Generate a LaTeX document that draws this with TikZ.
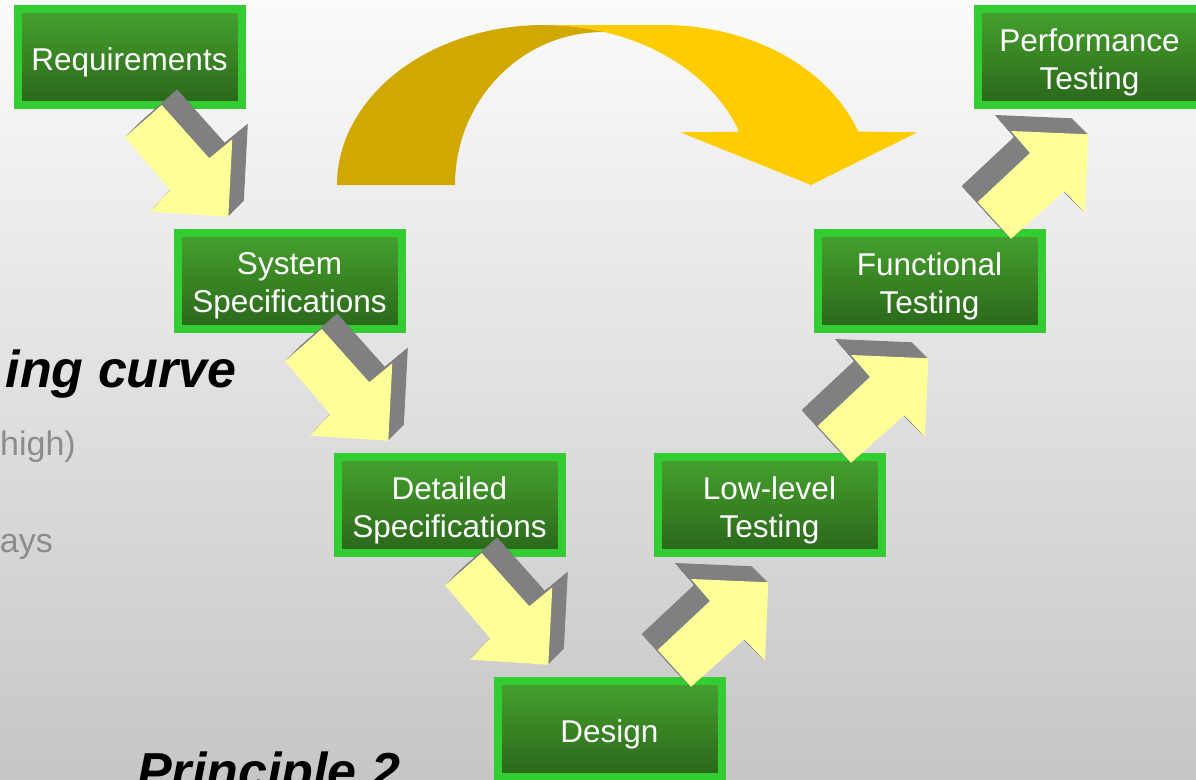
\documentclass[tikz,border=0pt]{standalone}
\usepackage{fontspec}
\setmainfont{Liberation Sans}
\definecolor{boxborder}{HTML}{33CC33}
\definecolor{boxtop}{HTML}{46A22E}
\definecolor{boxbot}{HTML}{2A661A}
\definecolor{arrowyellow}{HTML}{FFFF99}
\definecolor{arrowgrey}{HTML}{808080}
\definecolor{curvedark}{HTML}{D0A800}
\definecolor{curvelight}{HTML}{FFCC00}
\definecolor{bgtop}{HTML}{FBFBFB}
\definecolor{bgbot}{HTML}{C6C6C6}
\definecolor{softgrey}{HTML}{8C8C8C}
\newcommand\stepDownShape{(32.2,48) -- (-4.5,80.3) -- (40.5,133) -- (20.5,154.7) -- (98.8,159.7) -- (102.8,82.3) -- (79.8,101.3) -- cycle}
\newcommand\stepUpShape{(81.5,-42.3) -- (48.2,-79) -- (100.5,-128) -- (81.5,-150) -- (158.8,-146.7) -- (155.5,-68.3) -- (134.8,-89.7) -- cycle}
\begin{document}
\begin{tikzpicture}[x=1pt,y=-1pt,
  stagebox/.style={rectangle, draw=boxborder, line width=8pt, top color=boxtop, bottom color=boxbot,
    minimum width=224pt, minimum height=96pt, inner sep=0pt},
  stagetext/.style={inner sep=0pt, text=white, align=center, font=\fontsize{31.5}{38}\selectfont},
  bigtext/.style={inner sep=0pt, font=\fontsize{52}{60}\selectfont\bfseries\itshape},
  softtext/.style={inner sep=0pt, text=softgrey, font=\fontsize{34}{40}\selectfont}]
\useasboundingbox (0,0) rectangle (1196,779);
\shade[top color=bgtop, bottom color=bgbot] (0,0) rectangle (1196,779);

% side texts
\node[bigtext, anchor=base east] (t1) at (237,387) {ing curve};
\node[softtext, anchor=base east] (t2) at (76,455) {high)};
\node[softtext, anchor=base east] (t3) at (53,552) {ays};
\node[bigtext, anchor=base west] (t4) at (137,789) {Principle 2};

% stage boxes
\foreach \nm/\cx/\cy in {req/129.5/57, sys/289.5/281, det/449.5/505, des/609.5/729,
                         low/769.5/505, fun/929.5/281, perf/1089.5/57}{
  \node[stagebox] (\nm box) at (\cx,\cy) {};
}
\node[stagetext] (req) at ([yshift=-5pt]reqbox.center) {Requirements};
\node[stagetext] (sys) at ([yshift=-5pt]sysbox.center) {System\\Specifications};
\node[stagetext] (det) at ([yshift=-5pt]detbox.center) {Detailed\\Specifications};
\node[stagetext] (des) at ([yshift=-5pt]desbox.center) {Design};
\node[stagetext] (low) at ([yshift=-5pt]lowbox.center) {Low-level\\Testing};
\node[stagetext] (fun) at ([yshift=-5pt]funbox.center) {Functional\\Testing};
\node[stagetext] (perf) at ([yshift=-5pt]perfbox.center) {Performance\\Testing};

% downward block arrows
\foreach \src in {req,sys,det}{
  \begin{scope}[shift={(\src box.center)}]
    \foreach \t in {16,...,1}{\fill[arrowgrey,shift={(0.97*\t,-0.97*\t)}] \stepDownShape;}
    \fill[arrowyellow] \stepDownShape;
  \end{scope}
}
% upward block arrows
\foreach \src in {des,low,fun}{
  \begin{scope}[shift={(\src box.center)}]
    \foreach \t in {16,...,1}{\fill[arrowgrey,shift={(-1.0*\t,-1.0*\t)}] \stepUpShape;}
    \fill[arrowyellow] \stepUpShape;
  \end{scope}
}

% curved arrow
\fill[curvedark] (337,185) arc[start angle=180,end angle=287,x radius=207,y radius=160]
  -- (603,32) arc[start angle=270,end angle=180,x radius=148,y radius=153] -- cycle;
\fill[curvelight] (544,25) -- (663,25) arc[start angle=270,end angle=340.5,x radius=207,y radius=160]
  -- (917.4,132.3) -- (811,185) -- (680.2,132.3) -- (739.2,131.7)
  arc[start angle=340.5,end angle=270,x radius=207,y radius=160] -- cycle;
\end{tikzpicture}
\end{document}
